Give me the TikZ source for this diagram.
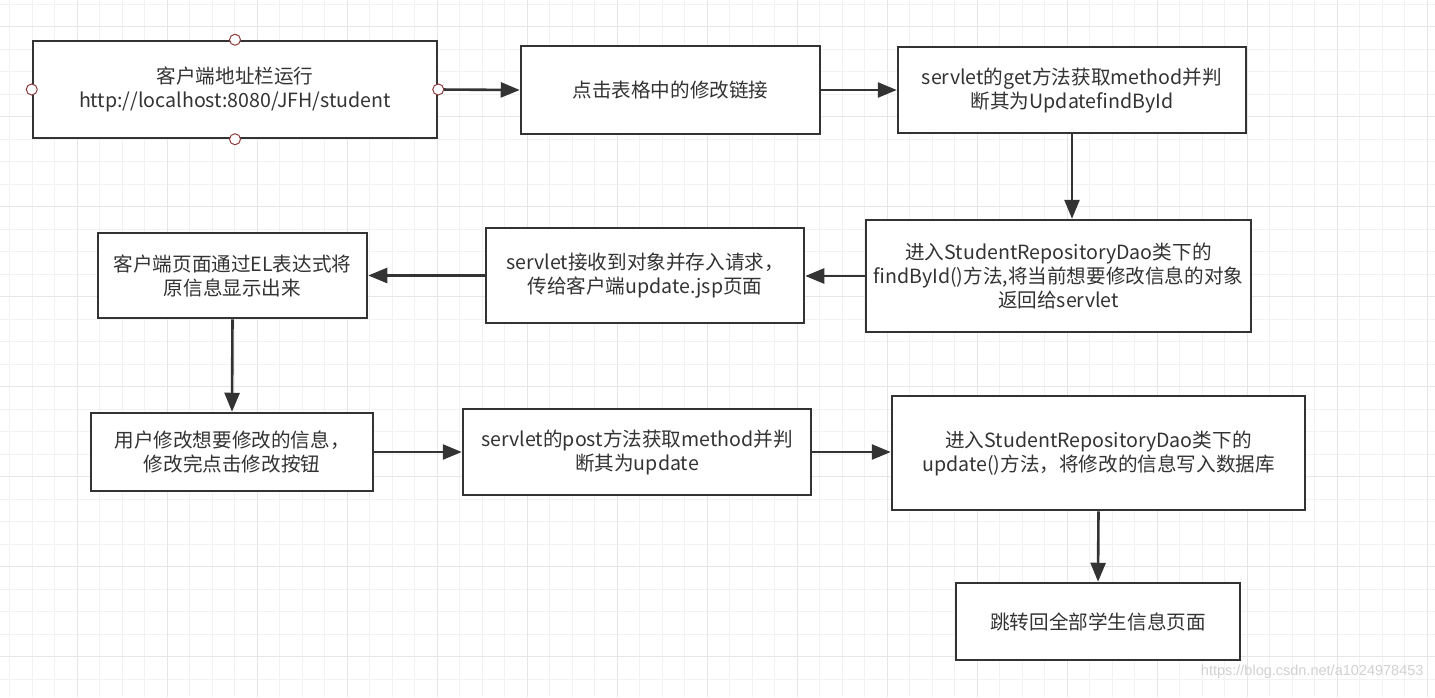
\documentclass[tikz,border=0pt]{standalone}
\usepackage{fontspec}
\setmainfont{Noto Sans CJK SC}
\newfontfamily\wmfont{Liberation Sans}
\usetikzlibrary{arrows.meta}
\definecolor{inkgray}{HTML}{333333}
\definecolor{minorgray}{HTML}{F2F2F2}
\definecolor{majorgray}{HTML}{E6E6E6}
\definecolor{handlered}{HTML}{8E3B3B}

\tikzset{
	stepbox/.style={draw=inkgray, line width=2.5pt, fill=white, text=inkgray,
		align=center, inner sep=0pt, font=\fontsize{19.6}{24}\selectfont},
	flow/.style={draw=inkgray, line width=2.6pt, -{Triangle[length=19pt, width=15pt]}},
	handle/.style={draw=handlered, fill=white, line width=1pt, circle, minimum size=11pt, inner sep=0pt}
}

\begin{document}
\begin{tikzpicture}[x=1pt, y=-1pt]
		\useasboundingbox (0,0) rectangle (1435,697);
		\fill[white] (0,0) rectangle (1435,697);

		% 背景のグリッド
		\foreach \i in {0,...,63}
			\draw[minorgray, line width=1.2pt] ({9.8+22.5*\i},0) -- ++(0,697);
		\foreach \i in {0,...,30}
			\draw[minorgray, line width=1.2pt] (0,{4.2+22.5*\i}) -- ++(1435,0);
		\foreach \i in {0,...,15}
			\draw[majorgray, line width=1.2pt] ({77.3+90*\i},0) -- ++(0,697);
		\foreach \i in {0,...,7}
			\draw[majorgray, line width=1.2pt] (0,{26.7+90*\i}) -- ++(1435,0);

		\node[stepbox, minimum width=404pt, minimum height=97pt] (addr) at (235, 89.5)
			{客户端地址栏运行\\http://localhost:8080/JFH/student};
		\node[stepbox, minimum width=299pt, minimum height=88pt] (link) at (670.5, 90)
			{点击表格中的修改链接};
		\node[stepbox, minimum width=348pt, minimum height=86pt] (getm) at (1072, 90)
			{servlet的get方法获取method并判\\断其为UpdatefindById};
		\node[stepbox, minimum width=385pt, minimum height=112pt] (find) at (1058.5, 276)
			{进入StudentRepositoryDao类下的\\findById()方法,将当前想要修改信息的对象\\返回给servlet};
		\node[stepbox, minimum width=318pt, minimum height=95pt] (recv) at (645, 275.5)
			{servlet接收到对象并存入请求，\\传给客户端update.jsp页面};
		\node[stepbox, minimum width=269pt, minimum height=85pt] (show) at (232.5, 275.5)
			{客户端页面通过EL表达式将\\原信息显示出来};
		\node[stepbox, minimum width=282pt, minimum height=78pt] (edit) at (232, 452)
			{用户修改想要修改的信息，\\修改完点击修改按钮};
		\node[stepbox, minimum width=348pt, minimum height=86pt] (postm) at (637, 452)
			{servlet的post方法获取method并判\\断其为update};
		\node[stepbox, minimum width=413pt, minimum height=114pt] (upd) at (1098.5, 453)
			{进入StudentRepositoryDao类下的\\update()方法，将修改的信息写入数据库};
		\node[stepbox, minimum width=284pt, minimum height=77pt] (back) at (1098, 621.5)
			{跳转回全部学生信息页面};

		% 選択ハンドル
		\node[handle] (hn) at (addr.north) {};
		\node[handle] (hs) at (addr.south) {};
		\node[handle] (hw) at (addr.west) {};

		\draw[flow] (addr.east) -- (link.west);
		\draw[flow] (link.east) -- (getm.west);
		\draw[flow] (getm.south) -- (getm.south |- find.north);
		\draw[flow] (find.west) -- (find.west -| recv.east);
		\draw[flow] (recv.west) -- (show.east);
		\draw[flow] (show.south) -- (edit.north);
		\draw[flow] (edit.east) -- (postm.west);
		\draw[flow] (postm.east) -- (postm.east -| upd.west);
		\draw[flow] (upd.south) -- (back.north);

		\node[handle] (he) at (addr.east) {};

		% 透かし
		\node[text=black!18, font=\wmfont\fontsize{14.5}{16}\selectfont, anchor=east] (wm) at (1427, 672)
			{https://blog.csdn.net/a1024978453};
	\end{tikzpicture}
\end{document}
